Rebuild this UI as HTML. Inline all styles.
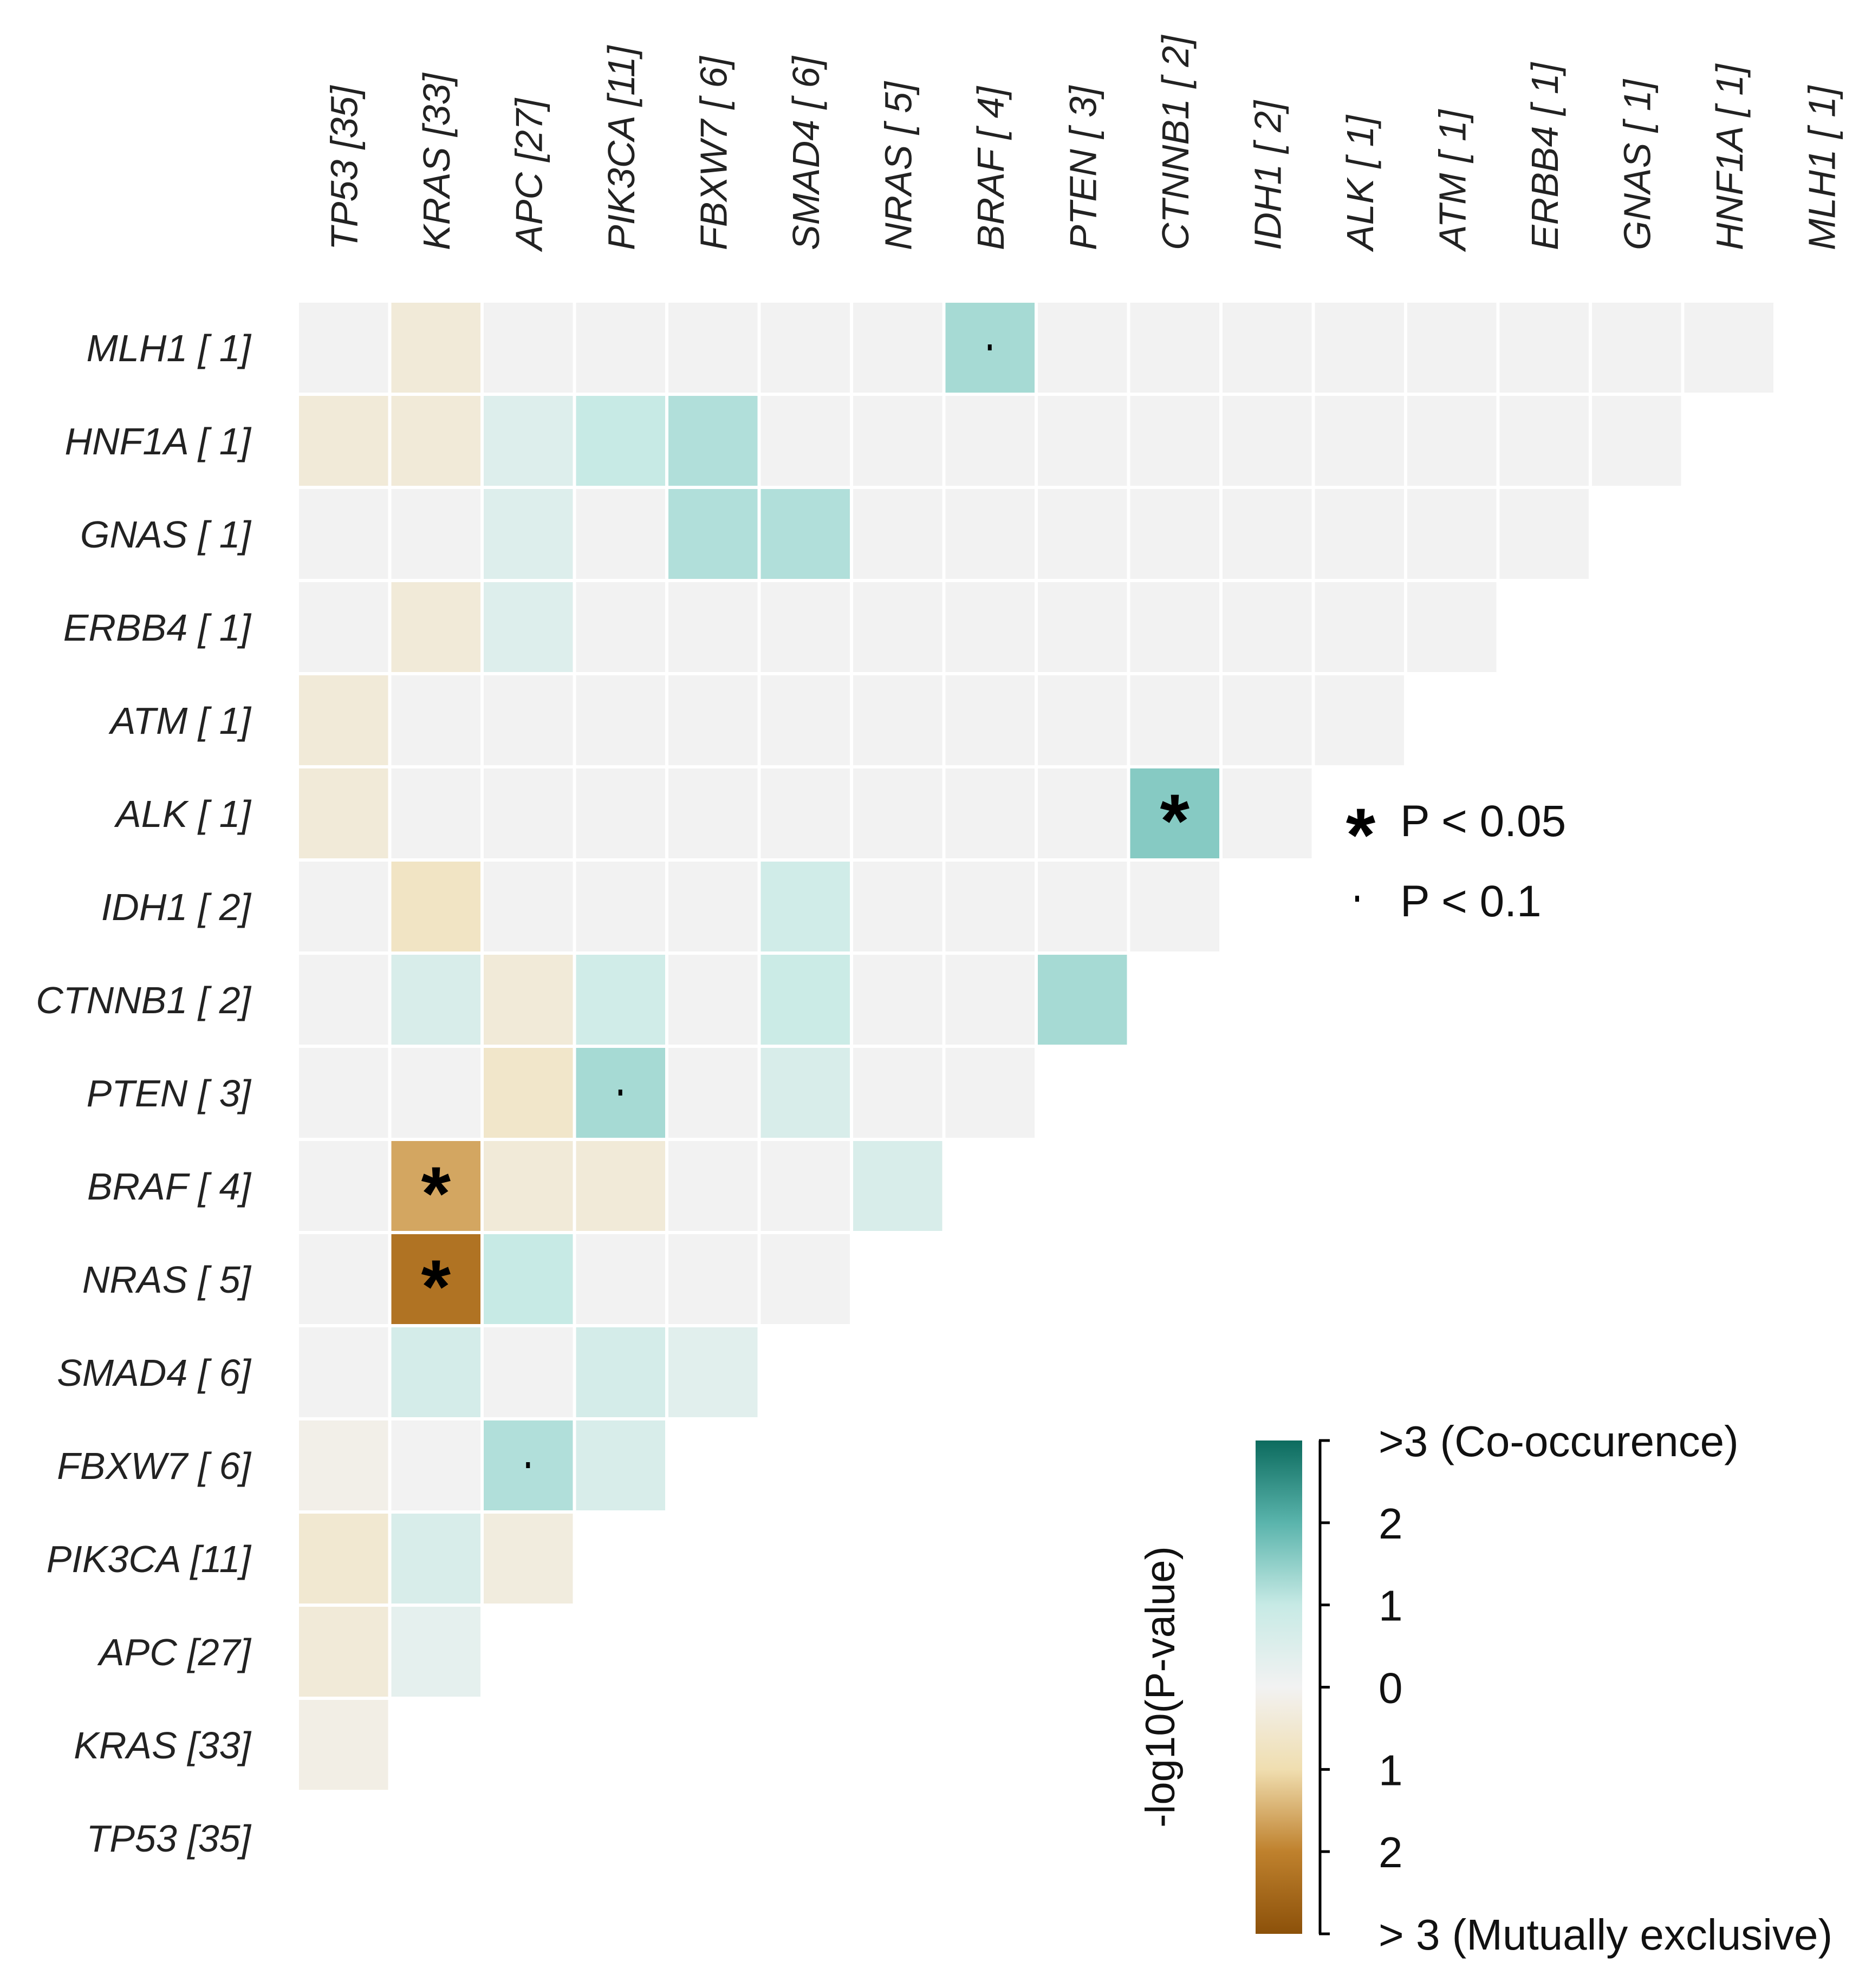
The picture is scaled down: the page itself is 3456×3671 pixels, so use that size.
<!DOCTYPE html>
<html><head><meta charset="utf-8"><style>
html,body{margin:0;padding:0;background:#fff;}
svg{display:block;font-family:"Liberation Sans",Arial,sans-serif;}
</style></head>
<body>
<svg id="chart" width="3456" height="3671" viewBox="0 0 3456 3671" xmlns="http://www.w3.org/2000/svg"></svg>
<script>
const rowGenes = ["MLH1 [ 1]","HNF1A [ 1]","GNAS [ 1]","ERBB4 [ 1]","ATM [ 1]","ALK [ 1]","IDH1 [ 2]","CTNNB1 [ 2]","PTEN [ 3]","BRAF [ 4]","NRAS [ 5]","SMAD4 [ 6]","FBXW7 [ 6]","PIK3CA [11]","APC [27]","KRAS [33]","TP53 [35]"];
const colGenes = ["TP53 [35]","KRAS [33]","APC [27]","PIK3CA [11]","FBXW7 [ 6]","SMAD4 [ 6]","NRAS [ 5]","BRAF [ 4]","PTEN [ 3]","CTNNB1 [ 2]","IDH1 [ 2]","ALK [ 1]","ATM [ 1]","ERBB4 [ 1]","GNAS [ 1]","HNF1A [ 1]","MLH1 [ 1]"];
// signed -log10(p): positive = co-occurrence, negative = mutual exclusivity
const values = [
 [0,-0.4,0,0,0,0,0,1.3,0,0,0,0,0,0,0,0],
 [-0.4,-0.4,0.5,1.0,1.2,0,0,0,0,0,0,0,0,0,0],
 [0,0,0.5,0,1.2,1.2,0,0,0,0,0,0,0,0],
 [0,-0.4,0.5,0,0,0,0,0,0,0,0,0,0],
 [-0.4,0,0,0,0,0,0,0,0,0,0,0],
 [-0.4,0,0,0,0,0,0,0,0,1.6,0],
 [0,-0.7,0,0,0,0.8,0,0,0,0],
 [0,0.6,-0.4,0.8,0,0.9,0,0,1.3],
 [0,0,-0.6,1.3,0,0.6,0,0],
 [0,-1.6,-0.4,-0.4,0,0,0.6],
 [0,-2.3,1.0,0,0,0],
 [0,0.7,0,0.7,0.4],
 [-0.15,0,1.2,0.6],
 [-0.5,0.6,-0.3],
 [-0.4,0.3],
 [-0.2],
 []
];
// significance: "*" p<0.05, "." p<0.1
const sigRows = [0,5,8,9,10,12];
const sigCols = [7,9,3,1,1,2];
const sigMarks = [".","*",".","*","*","."];
const cbTicks = ["> 3 (Mutually exclusive)","2","1","0","1","2",">3 (Co-occurence)"];

const NS="http://www.w3.org/2000/svg";
const svg=document.getElementById('chart');
const X0=552, Y0=559, PX=170.5, PY=172, GAP=6;
const xPos=c=>X0+c*PX, yPos=r=>Y0+r*PY;
const stops=[[-3,[140,81,10]],[-2,[191,129,45]],[-1,[240,222,176]],[0,[242,242,242]],[1,[199,234,229]],[2,[90,180,172]],[3,[12,107,94]]];
function color(v){
 v=Math.max(-3,Math.min(3,v));
 for(let i=0;i<stops.length-1;i++){
  const [a,ca]=stops[i],[b,cb]=stops[i+1];
  if(v<=b){const t=(v-a)/(b-a);const c=ca.map((x,k)=>Math.round(x+(cb[k]-x)*t));return `rgb(${c.join(',')})`;}
 }
 return 'rgb(12,107,94)';
}
function mk(tag,attrs,parent){const e=document.createElementNS(NS,tag);for(const k in attrs)e.setAttribute(k,attrs[k]);(parent||svg).appendChild(e);return e;}

const gCells=mk('g',{});


values.forEach((row,r)=>row.forEach((v,c)=>{
 const rect=mk('rect',{x:xPos(c),y:yPos(r),width:PX-GAP,height:PY-GAP,fill:color(v)},gCells);
 
 
}));
sigRows.forEach((r,i)=>{
 const c=sigCols[i], m=sigMarks[i];
 const cx=xPos(c)+(PX-GAP)/2, cy=yPos(r)+(PY-GAP)/2;
 let t;
 if(m==='*'){t=mk('text',{x:cx,y:cy+62,'text-anchor':'middle','font-size':140,'font-weight':'bold',fill:'#000'});t.textContent='*';}
 else{t=mk('rect',{x:cx-4,y:cy-6,width:7,height:11,fill:'#000'});}
 
 
});
rowGenes.forEach((g,r)=>{
 const t=mk('text',{x:463,y:yPos(r)+(PY-GAP)/2+25,'text-anchor':'end','font-size':70,'font-style':'italic',fill:'#222'});
 t.textContent=g;
 
 
});
colGenes.forEach((g,c)=>{
 const cx=xPos(c)+(PX-GAP)/2+25;
 const t=mk('text',{x:0,y:0,transform:`translate(${cx},462) rotate(-90)`,'font-size':70,'font-style':'italic',fill:'#222'});
 t.textContent=g;
 
 
});
// significance legend
let l=mk('text',{x:2512,y:1590,'text-anchor':'middle','font-size':140,'font-weight':'bold'});l.textContent='*';


l=mk('text',{x:2585,y:1544,'font-size':82,fill:'#111'});l.textContent='P < 0.05';


l=mk('rect',{x:2502,y:1654,width:7,height:11,fill:'#000'});


l=mk('text',{x:2585,y:1692,'font-size':82,fill:'#111'});l.textContent='P < 0.1';


// colorbar
const defs=mk('defs',{});
const grad=mk('linearGradient',{id:'cb',x1:0,y1:1,x2:0,y2:0},defs);
stops.forEach(s=>mk('stop',{offset:((s[0]+3)/6),'stop-color':color(s[0])},grad));
const CB_T=2660, CB_B=3571;
const cb=mk('rect',{x:2318,y:CB_T,width:86,height:CB_B-CB_T,fill:'url(#cb)'});


const ax=mk('path',{d:`M2437 ${CB_T}V${CB_B}`,stroke:'#000','stroke-width':5,fill:'none'});


cbTicks.forEach((lab,i)=>{
 const y=CB_B-i*(CB_B-CB_T)/(cbTicks.length-1);
 const tk=mk('path',{d:`M2435 ${y}H2455`,stroke:'#000','stroke-width':5});
 
 
 const t=mk('text',{x:2545,y:y+29,'font-size':80,fill:'#111'});
 t.textContent=lab;
 
 
});
const at=mk('text',{x:0,y:0,transform:'translate(2168,3115) rotate(-90)','text-anchor':'middle','font-size':76,fill:'#111'});
at.textContent='-log10(P-value)';


</script>
</body></html>
